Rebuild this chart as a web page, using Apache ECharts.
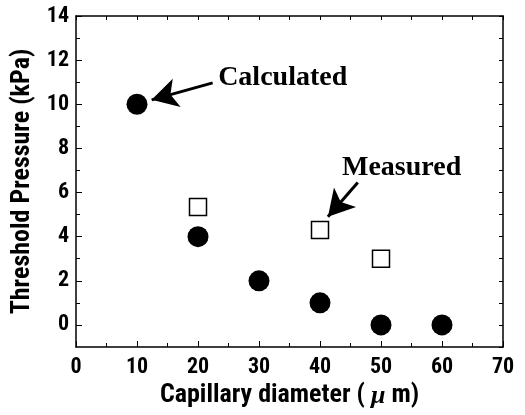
<!DOCTYPE html>
<html lang="en">
<head>
    <meta charset="UTF-8">
    <title>Threshold Pressure</title>
    <script src="https://cdn.jsdelivr.net/npm/echarts@6/dist/echarts.min.js"></script>
    <style>
        html,body{margin:0;padding:0;background:#fff;}
        #chart{width:525px;height:415px;}
    </style>
</head>
<body>
<div id="chart"></div>
<script>
    var diameters = [10, 20, 30, 40, 50, 60];
    var calculated = [10, 4, 2, 1, 0, 0];
    var measuredX = [20, 40, 50];
    var measuredY = [5.35, 4.3, 3.0];
    var yMajor = [0, 2, 4, 6, 8, 10, 12, 14];
    var yMinor = [1, 3, 5, 7, 9, 11, 13];

    var labelFont = '"Roboto Condensed", "DejaVu Sans Condensed", sans-serif';
    var noteFont = '"Liberation Serif", "Times New Roman", serif';

    var calcData = [];
    for (var i = 0; i < diameters.length; i++) {
        calcData.push([diameters[i], calculated[i]]);
    }
    var measData = [];
    for (var k = 0; k < measuredX.length; k++) {
        measData.push([measuredX[k], measuredY[k]]);
    }

    var line = {show: true, onZero: false, lineStyle: {color: '#000', width: 1.5}};

    var option = {
        animation: false,
        grid: {left: 76, right: 22, top: 16, bottom: 68},
        xAxis: [{
            type: 'value', min: 0, max: 70, interval: 10,
            name: 'Capillary diameter ( {mu|μ} m)',
            nameLocation: 'middle', nameGap: 29,
            nameTextStyle: {
                fontFamily: labelFont, fontWeight: 'bold', fontSize: 26, color: '#000',
                rich: {mu: {fontFamily: noteFont, fontStyle: 'italic', fontSize: 26, color: '#000'}}
            },
            axisLine: line,
            axisTick: {show: true, inside: true, length: 6, lineStyle: {color: '#000', width: 1}},
            minorTick: {show: true, splitNumber: 2, length: 4, lineStyle: {color: '#000'}},
            axisLabel: {fontFamily: labelFont, fontWeight: 'bold', fontSize: 22, color: '#000', margin: 9},
            splitLine: {show: false}
        }, {
            type: 'value', position: 'top', min: 0, max: 70, interval: 5,
            axisLine: line,
            axisTick: {show: true, inside: true, length: 4, lineStyle: {color: '#000', width: 1}},
            axisLabel: {show: false},
            splitLine: {show: false}
        }],
        yAxis: [{
            type: 'value', position: 'left', min: -1, max: 14, interval: 1,
            name: 'Threshold Pressure (kPa)',
            nameLocation: 'middle', nameGap: 38,
            nameTextStyle: {fontFamily: labelFont, fontWeight: 'bold', fontSize: 26, color: '#000'},
            axisLine: line,
            axisTick: {show: true, inside: true, length: 6, customValues: yMajor, lineStyle: {color: '#000', width: 1}},
            axisLabel: {
                fontFamily: labelFont, fontWeight: 'bold', fontSize: 22, color: '#000', margin: 7,
                customValues: yMajor
            },
            splitLine: {show: false}
        }, {
            type: 'value', position: 'left', min: -1, max: 14, interval: 1,
            axisLine: {show: false},
            axisTick: {show: true, inside: true, length: 4, customValues: yMinor, lineStyle: {color: '#000', width: 1}},
            axisLabel: {show: false},
            splitLine: {show: false}
        }, {
            type: 'value', position: 'right', min: -1, max: 14, interval: 1,
            axisLine: line,
            axisTick: {show: true, inside: true, length: 4, lineStyle: {color: '#000', width: 1}},
            axisLabel: {show: false},
            splitLine: {show: false}
        }],
        series: [{
            name: 'Calculated',
            type: 'scatter',
            symbol: 'circle',
            symbolSize: 21,
            itemStyle: {color: '#000', opacity: 1},
            data: calcData,
            markLine: {
                silent: true,
                symbol: ['none', 'arrow'],
                symbolSize: [22, 26],
                lineStyle: {color: '#000', width: 3, type: 'solid', opacity: 1},
                label: {show: false},
                data: [
                    [{coord: [22.4, 10.97]}, {coord: [12.4, 10.2]}],
                    [{coord: [46.2, 6.45]}, {coord: [41.3, 4.9]}]
                ]
            },
            markPoint: {
                silent: true,
                symbol: 'circle',
                symbolSize: 0,
                label: {
                    show: true, position: 'right', distance: 0,
                    fontFamily: noteFont, fontWeight: 'bold', fontSize: 28, color: '#000'
                },
                data: [
                    {coord: [23.3, 11.2], value: 'Calculated'},
                    {coord: [43.6, 7.1], value: 'Measured'}
                ]
            }
        }, {
            name: 'Measured',
            type: 'scatter',
            symbol: 'rect',
            symbolSize: 17,
            itemStyle: {color: '#fff', borderColor: '#000', borderWidth: 1.5, opacity: 1},
            data: measData
        }]
    };

    var chart = echarts.init(document.getElementById('chart'));
    chart.setOption(option);
</script>
</body>
</html>
